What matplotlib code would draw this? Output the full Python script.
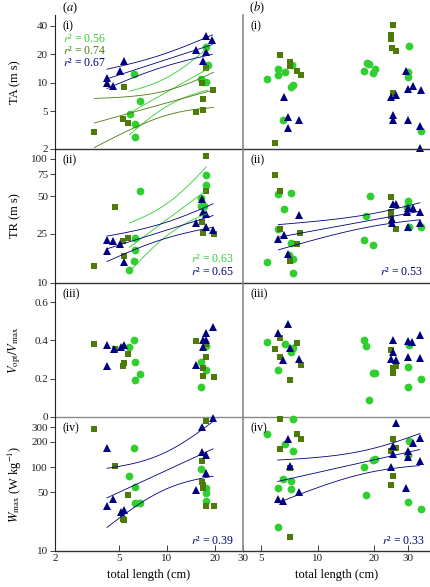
import numpy as np
import matplotlib
matplotlib.use('Agg')
import matplotlib.pyplot as plt
from matplotlib.ticker import FixedLocator, FixedFormatter, NullLocator

plt.rcParams['font.family'] = ['Liberation Serif', 'DejaVu Serif']
plt.rcParams['mathtext.fontset'] = 'stix'

NAVY = '#000080'
GREEN = '#2ecf2e'
OLIVE = '#4e7a0c'

# ---------------- data: column (a) ----------------
a1_tri_x = [4.23, 4.23, 4.62, 5.13, 5.43, 15.2, 17.5, 19.3, 17.5, 16.8]
a1_tri_y = [11.2, 10.0, 9.3, 13.2, 16.8, 22.0, 31.5, 28.5, 21.4, 16.8]
a1_cir_x = [6.22, 6.85, 5.85, 6.34, 6.30, 17.5, 18.0, 16.4, 17.5, 16.9]
a1_cir_y = [12.3, 6.4, 4.7, 3.7, 2.7, 23.9, 15.5, 11.1, 10.1, 10.3]
a1_sq_x = [3.53, 5.43, 5.30, 5.73, 17.5, 16.7, 16.8, 19.6, 15.2, 16.8]
a1_sq_y = [3.0, 9.1, 4.16, 3.77, 14.5, 9.9, 6.8, 8.4, 4.9, 5.2]

a2_tri_x = [4.23, 4.61, 5.13, 4.23, 5.43, 15.3, 16.7, 16.9, 17.7, 17.7, 19.5]
a2_tri_y = [22.4, 21.9, 20.6, 18.1, 14.8, 30.3, 47.3, 37.6, 36.0, 28.4, 26.7]
a2_cir_x = [6.85, 17.7, 17.5, 16.3, 16.4, 17.2, 6.34, 6.34, 6.22, 5.84]
a2_cir_y = [55.5, 74.3, 61.7, 48.2, 42.0, 42.0, 23.2, 18.4, 14.9, 12.7]
a2_sq_x = [17.7, 17.7, 4.72, 3.53, 5.43, 5.30, 5.73, 16.7, 16.9, 19.8]
a2_sq_y = [106, 55.5, 40.8, 13.8, 16.5, 21.8, 22.9, 31.2, 25.5, 24.8]

a3_tri_x = [4.23, 4.23, 4.65, 5.18, 5.43, 15.2, 16.9, 16.9, 17.7, 19.5, 17.5]
a3_tri_y = [0.376, 0.266, 0.355, 0.364, 0.376, 0.272, 0.402, 0.367, 0.44, 0.468, 0.40]
a3_cir_x = [6.22, 5.84, 6.34, 6.85, 6.34, 16.3, 17.7, 16.5, 17.7]
a3_cir_y = [0.40, 0.364, 0.286, 0.223, 0.193, 0.289, 0.245, 0.155, 0.371]
a3_sq_x = [3.53, 4.72, 5.30, 5.43, 5.73, 15.3, 17.7, 16.9, 16.9, 19.8, 17.7]
a3_sq_y = [0.381, 0.355, 0.266, 0.28, 0.329, 0.398, 0.315, 0.254, 0.216, 0.21, 0.38]

a4_tri_x = [4.23, 4.23, 4.61, 5.18, 5.43, 15.2, 16.7, 16.7, 17.7, 17.7, 19.5]
a4_tri_y = [171, 34.4, 41.6, 29.4, 30.8, 53.2, 297, 152, 141, 85.5, 380]
a4_cir_x = [6.22, 5.84, 6.34, 6.34, 6.85, 16.3, 17.7, 17.5, 17.5]
a4_cir_y = [167, 78, 58, 37.6, 37.6, 94, 55.7, 48.6, 39.4]
a4_sq_x = [3.53, 4.72, 5.73, 5.30, 5.43, 16.7, 16.7, 16.9, 16.9, 17.7, 19.8, 17.5]
a4_sq_y = [283, 104, 46.4, 24, 23.4, 118, 66.8, 61, 55.7, 34.4, 34.4, 350]

# ---------------- data: column (b) ----------------
b1_sq_x = [25.1, 24.4, 24.4, 24.7, 26.2, 6.32, 7.07, 7.07, 7.74, 8.17, 5.95, 25.1]
b1_sq_y = [41.1, 32.2, 29.0, 23.3, 21.5, 19.8, 16.4, 15.1, 13.2, 12.2, 2.33, 7.9]
b1_cir_x = [5.34, 6.12, 6.15, 6.73, 7.31, 7.37, 7.2, 6.51, 18.3, 18.8, 17.5, 19.6, 20.2, 30.6, 30.0, 30.2, 35.3]
b1_cir_y = [10.9, 14.0, 12.2, 12.9, 15.5, 9.5, 9.0, 4.05, 16.1, 15.9, 13.4, 12.7, 14.0, 24.7, 12.9, 11.5, 3.1]
b1_tri_x = [6.57, 6.98, 6.98, 7.94, 29.4, 24.4, 26.2, 30.0, 31.9, 35.3, 25.1, 25.1, 30.0, 34.9, 34.9]
b1_tri_y = [7.05, 4.34, 3.37, 4.0, 13.4, 7.16, 7.4, 8.6, 9.3, 8.3, 4.6, 4.05, 4.05, 3.5, 2.05]

b2_sq_x = [5.95, 6.32, 24.4, 24.4, 24.4, 26.2, 8.07, 7.74, 6.32, 7.07]
b2_sq_y = [74.3, 55.5, 49.1, 37.6, 34.7, 27.1, 25.5, 20.5, 27.1, 14.9]
b2_cir_x = [6.12, 7.22, 6.57, 6.12, 7.22, 7.37, 5.34, 7.37, 7.0, 18.9, 18.1, 17.5, 19.6, 30.0, 29.8, 30.6, 35.3]
b2_cir_y = [52.3, 53.5, 39.5, 27.1, 21.1, 15.5, 14.7, 12.0, 16.8, 50.4, 34.7, 22.2, 20.2, 45.8, 40.8, 28.1, 28.1]
b2_tri_x = [7.94, 6.57, 6.17, 6.98, 25.2, 26.2, 24.9, 24.9, 29.7, 31.9, 30.0, 34.9, 34.9, 30.2]
b2_tri_y = [35.3, 24.4, 22.7, 17.0, 43.4, 43.4, 32.8, 30.3, 37.6, 40.0, 40.0, 37.6, 30.6, 28.1]

b3_tri_x = [6.92, 6.12, 7.07, 6.51, 7.94, 25.2, 25.1, 24.4, 26.2, 30.0, 31.6, 30.0, 34.9, 34.9]
b3_tri_y = [0.484, 0.44, 0.359, 0.298, 0.303, 0.402, 0.341, 0.303, 0.298, 0.398, 0.39, 0.315, 0.428, 0.306]
b3_sq_x = [6.32, 5.95, 6.27, 7.74, 8.17, 7.07, 24.4, 25.2, 25.2, 26.2]
b3_sq_y = [0.411, 0.353, 0.315, 0.385, 0.272, 0.193, 0.35, 0.254, 0.228, 0.266]
b3_cir_x = [5.34, 6.73, 7.22, 7.37, 6.15, 17.5, 18.1, 19.6, 20.2, 18.8, 30.6, 30.0, 30.0, 35.3]
b3_cir_y = [0.393, 0.38, 0.341, 0.362, 0.245, 0.402, 0.372, 0.228, 0.228, 0.089, 0.376, 0.263, 0.155, 0.198]

b4_cir_x = [5.34, 6.73, 7.37, 6.51, 7.22, 6.12, 7.22, 6.12, 17.5, 19.6, 20.2, 18.1, 30.6, 30.0, 35.3, 7.37, 30.2]
b4_cir_y = [247, 186, 155, 71.4, 68, 55.7, 54.3, 19.5, 100, 121, 126, 46.4, 206, 38.6, 31.6, 373, 141]
b4_sq_x = [6.32, 7.07, 7.74, 8.17, 7.07, 25.2, 26.2, 24.4, 25.2, 24.4, 6.32]
b4_sq_y = [164, 96.5, 247, 215, 14.8, 215, 167, 155, 78.8, 61, 373]
b4_tri_x = [6.92, 7.07, 6.12, 6.51, 7.94, 26.2, 25.2, 25.2, 24.4, 30.0, 30.0, 31.9, 34.9, 34.9, 29.4]
b4_tri_y = [214, 103, 41.6, 39.4, 50.8, 333, 178, 143, 100, 155, 133, 195, 219, 118, 55.7]

# r^2 values shown
r2_a1 = ['0.56', '0.74', '0.67']
r2_a2 = ['0.63', '0.65']
r2_b2 = '0.53'
r2_a4 = '0.39'
r2_b4 = '0.33'

# tick values / labels
xt_a = [2, 5, 10, 20, 30]
xt_b = [5, 10, 20, 30]
yt_1 = [2, 5, 10, 20, 40]
yt_2 = [10, 25, 50, 75, 100]
yt_3 = [0, 0.2, 0.4, 0.6]
yt_3_lab = ['0', '0.2', '0.4', '0.6']
yt_4 = [10, 50, 100, 200, 300]

T95 = {5: 2.571, 6: 2.447, 7: 2.365, 8: 2.306, 9: 2.262, 10: 2.228, 11: 2.201,
       12: 2.179, 13: 2.160, 14: 2.145, 15: 2.131, 16: 2.120, 17: 2.110}

W, H = 431, 587
fig = plt.figure(figsize=(W / 100, H / 100), dpi=100)

cols_x = [55, 243]
rows_y = [15, 149, 283, 417]
CW, RH = 188, 134
ylims = [(2, 52), (10, 120), (0, 0.7), (10, 395)]
xlims = [(2, 30), (4, 40)]
yticks = [yt_1, yt_2, yt_3, yt_4]
ylabels = ['TA (m s)', 'TR (m s)', r'$V_{\rm opt}/V_{\rm max}$', r'$W_{\rm max}$ (W kg$^{-1}$)']
roman = ['(i)', '(ii)', '(iii)', '(iv)']

axes = {}
for c in range(2):
    for r in range(4):
        ax = fig.add_axes([cols_x[c] / W, 1 - (rows_y[r] + RH) / H, CW / W, RH / H])
        ax.set_xscale('log')
        if r != 2:
            ax.set_yscale('log')
        ax.set_xlim(*xlims[c])
        ax.set_ylim(*ylims[r])
        ax.patch.set_alpha(0)
        for s in ('top', 'right'):
            ax.spines[s].set_visible(False)
        ax.spines['left'].set_color('#222222' if c == 0 else '#8a8a8a')
        ax.spines['left'].set_linewidth(0.8 if c == 0 else 1.2)
        ax.spines['bottom'].set_color('#8a8a8a' if r == 2 else '#333333')
        ax.spines['bottom'].set_linewidth(1.0)
        ax.xaxis.set_minor_locator(NullLocator())
        ax.yaxis.set_minor_locator(NullLocator())
        if c == 0:
            ax.yaxis.set_major_locator(FixedLocator(yticks[r]))
            labs = yt_3_lab if r == 2 else [str(v) for v in yticks[r]]
            ax.yaxis.set_major_formatter(FixedFormatter(labs))
            ax.tick_params(axis='y', direction='out', length=3.5, width=0.6,
                           labelsize=8, pad=1.5, colors='#222222')
        else:
            ax.set_yticks([])
        if r == 3:
            xt = xt_a if c == 0 else xt_b
            ax.xaxis.set_major_locator(FixedLocator(xt))
            ax.xaxis.set_major_formatter(FixedFormatter([str(v) for v in xt]))
            ax.tick_params(axis='x', direction='in', length=4, width=0.6,
                           labelsize=8, pad=2.5, colors='#222222')
        else:
            ax.set_xticks([])
        ax.text(8 / CW, 1 - 5 / RH, roman[r], transform=ax.transAxes,
                ha='left', va='top', fontsize=8.5)
        axes[(c, r)] = ax


def pts(ax, x, y, kind):
    if kind == 'cir':
        ax.plot(x, y, 'o', color=GREEN, ms=5.6, mew=0, ls='none', clip_on=False, zorder=2)
    elif kind == 'sq':
        ax.plot(x, y, 's', color=OLIVE, ms=4.8, mew=0, ls='none', clip_on=False, zorder=2)
    else:
        ax.plot(x, y, '^', color=NAVY, ms=6.0, mew=0, ls='none', clip_on=False, zorder=2)


def fit(ax, x, y, color):
    lx = np.log10(np.asarray(x, float))
    ly = np.log10(np.asarray(y, float))
    n = len(lx)
    b, a = np.polyfit(lx, ly, 1)
    res = ly - (a + b * lx)
    s = np.sqrt(np.sum(res ** 2) / (n - 2))
    xm = lx.mean()
    sxx = np.sum((lx - xm) ** 2)
    xs = np.linspace(lx.min(), lx.max(), 120)
    yc = a + b * xs
    se = s * np.sqrt(1.0 / n + (xs - xm) ** 2 / sxx)
    t = T95[n - 2]
    for yy in (yc - t * se, yc, yc + t * se):
        ax.plot(10 ** xs, 10 ** yy, color=color, lw=0.6, zorder=3)


panels = [
    ((0, 0), a1_cir_x, a1_cir_y, a1_sq_x, a1_sq_y, a1_tri_x, a1_tri_y),
    ((0, 1), a2_cir_x, a2_cir_y, a2_sq_x, a2_sq_y, a2_tri_x, a2_tri_y),
    ((0, 2), a3_cir_x, a3_cir_y, a3_sq_x, a3_sq_y, a3_tri_x, a3_tri_y),
    ((0, 3), a4_cir_x, a4_cir_y, a4_sq_x, a4_sq_y, a4_tri_x, a4_tri_y),
    ((1, 0), b1_cir_x, b1_cir_y, b1_sq_x, b1_sq_y, b1_tri_x, b1_tri_y),
    ((1, 1), b2_cir_x, b2_cir_y, b2_sq_x, b2_sq_y, b2_tri_x, b2_tri_y),
    ((1, 2), b3_cir_x, b3_cir_y, b3_sq_x, b3_sq_y, b3_tri_x, b3_tri_y),
    ((1, 3), b4_cir_x, b4_cir_y, b4_sq_x, b4_sq_y, b4_tri_x, b4_tri_y),
]
for key, cx, cy, sx, sy, tx, ty in panels:
    ax = axes[key]
    pts(ax, cx, cy, 'cir')
    pts(ax, sx, sy, 'sq')
    pts(ax, tx, ty, 'tri')

# regression fits with 95% confidence bands
fit(axes[(0, 0)], a1_cir_x, a1_cir_y, GREEN)
fit(axes[(0, 0)], a1_sq_x, a1_sq_y, OLIVE)
fit(axes[(0, 0)], a1_tri_x, a1_tri_y, NAVY)
fit(axes[(0, 1)], a2_cir_x, a2_cir_y, GREEN)
fit(axes[(0, 1)], a2_tri_x, a2_tri_y, NAVY)
fit(axes[(0, 3)], a4_tri_x, a4_tri_y, NAVY)
fit(axes[(1, 1)], b2_tri_x, b2_tri_y, NAVY)
fit(axes[(1, 3)], b4_tri_x, b4_tri_y, NAVY)


def r2(v):
    return r'$r$' + '\u00b2 = ' + v


# r^2 annotations
RFS = 8.5
ax = axes[(0, 0)]
for i, (v, col) in enumerate(zip(r2_a1, [GREEN, OLIVE, NAVY])):
    ax.text(8 / CW, 1 - (24.5 + 12 * i) / RH, r2(v), color=col, transform=ax.transAxes,
            ha='left', va='center', fontsize=RFS)
ax = axes[(0, 1)]
ax.text(179 / CW, 1 - 110 / RH, r2(r2_a2[0]), color=GREEN, transform=ax.transAxes,
        ha='right', va='center', fontsize=RFS)
ax.text(179 / CW, 1 - 123 / RH, r2(r2_a2[1]), color=NAVY, transform=ax.transAxes,
        ha='right', va='center', fontsize=RFS)
axes[(1, 1)].text(180 / CW, 1 - 123 / RH, r2(r2_b2), color=NAVY,
                  transform=axes[(1, 1)].transAxes, ha='right', va='center', fontsize=RFS)
axes[(0, 3)].text(179 / CW, 1 - 124 / RH, r2(r2_a4), color=NAVY,
                  transform=axes[(0, 3)].transAxes, ha='right', va='center', fontsize=RFS)
axes[(1, 3)].text(182 / CW, 1 - 124 / RH, r2(r2_b4), color=NAVY,
                  transform=axes[(1, 3)].transAxes, ha='right', va='center', fontsize=RFS)

# y labels
for r in range(4):
    yc = rows_y[r] + RH / 2
    fig.text(15 / W, 1 - yc / H, ylabels[r], rotation=90, ha='center', va='center', fontsize=9)

# x labels
for c in range(2):
    fig.text((cols_x[c] + CW / 2) / W, 1 - 575 / H, 'total length (cm)',
             ha='center', va='center', fontsize=9)

# column labels
fig.text(70 / W, 1 - 8 / H, r'($a$)', ha='center', va='center', fontsize=9)
fig.text(257 / W, 1 - 8 / H, r'($b$)', ha='center', va='center', fontsize=9)

fig.savefig('out.png', dpi=100)
